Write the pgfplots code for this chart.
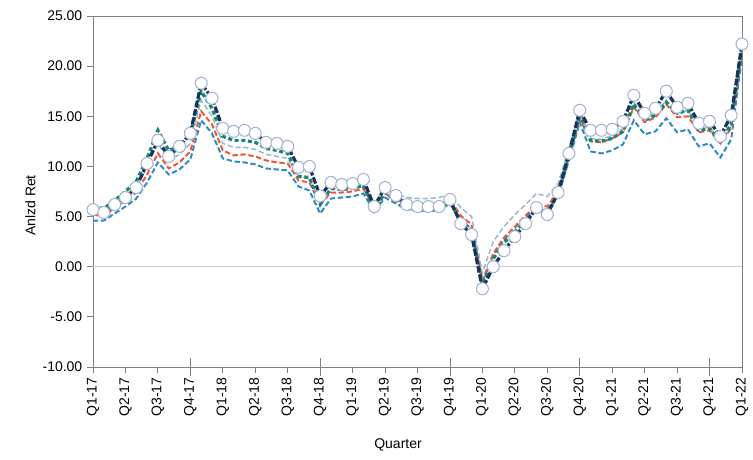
\documentclass[border=0pt]{standalone}
\usepackage{fontspec}
\setmainfont{Liberation Sans}
\usepackage{pgfplots}
\usepackage{pgfplotstable}
\pgfplotsset{compat=1.18}
\definecolor{navyc}{RGB}{25,50,95}
\definecolor{greenc}{RGB}{25,135,110}
\definecolor{redc}{RGB}{240,85,60}
\definecolor{bluec}{RGB}{45,140,200}
\definecolor{palec}{RGB}{150,185,200}
\definecolor{mkedge}{RGB}{165,180,210}
\definecolor{axc}{RGB}{128,128,128}
\pgfplotstableread{
x A B C D E
0 5.7 6.0 5.5 5.2 4.6
1 5.4 5.8 5.3 5.0 4.6
2 6.2 6.6 6.2 5.9 5.3
3 6.9 7.5 7.0 6.6 6.0
4 7.9 8.5 7.9 7.4 6.8
5 10.3 10.8 10.0 9.2 8.4
6 12.6 13.6 12.3 11.3 10.4
7 11.0 11.6 10.6 9.8 9.2
8 12.0 12.0 11.2 10.4 9.7
9 13.3 13.2 12.3 11.5 10.7
10 18.3 17.5 16.6 15.5 14.6
11 16.8 15.8 15.0 14.2 13.3
12 13.8 13.0 12.3 11.6 10.8
13 13.5 12.6 11.9 11.1 10.5
14 13.6 12.6 11.9 11.2 10.4
15 13.3 12.4 11.7 11.0 10.2
16 12.4 11.8 11.2 10.6 9.8
17 12.3 11.6 11.0 10.4 9.7
18 12.0 11.3 10.8 10.3 9.6
19 9.9 9.0 9.0 8.6 8.0
20 10.0 8.9 8.8 8.4 7.6
21 7.05 6.2 6.5 6.2 5.3
22 8.4 7.8 7.8 7.4 6.8
23 8.2 7.7 7.8 7.4 6.9
24 8.3 7.8 7.9 7.5 7.0
25 8.7 8.1 8.2 7.8 7.3
26 6.0 5.6 6.3 5.9 5.5
27 7.9 7.4 7.7 7.3 6.9
28 7.1 6.6 7.3 6.7 6.3
29 6.2 5.9 6.9 6.2 5.7
30 6.0 5.6 6.8 6.0 5.6
31 6.0 5.6 6.8 6.1 5.6
32 6.0 5.7 6.9 6.1 5.7
33 6.7 6.4 7.2 6.7 6.3
34 4.3 4.6 5.9 5.1 4.6
35 3.2 3.6 5.0 4.2 3.8
36 -2.2 -1.8 -0.6 -1.4 -1.6
37 0.0 0.8 2.5 1.3 1.2
38 1.6 2.4 4.0 2.9 2.7
39 3.0 3.5 5.2 4.0 3.9
40 4.3 4.6 6.2 5.1 5.0
41 5.9 5.8 7.3 6.2 6.0
42 5.2 5.5 7.0 6.0 5.6
43 7.4 7.2 8.3 7.6 7.0
44 11.3 11.0 11.8 11.0 10.6
45 15.6 15.2 15.4 14.8 14.4
46 13.6 12.6 12.8 12.5 11.5
47 13.6 12.5 12.7 12.4 11.3
48 13.7 12.8 13.1 12.8 11.6
49 14.5 13.5 13.8 13.4 12.2
50 17.1 16.2 16.4 15.9 14.6
51 15.3 14.6 14.8 14.4 13.2
52 15.8 15.1 15.3 14.9 13.5
53 17.5 16.4 16.6 16.2 14.8
54 15.9 15.3 15.3 14.9 13.4
55 16.3 15.6 15.6 15.0 13.7
56 14.3 13.6 13.8 13.4 12.0
57 14.5 13.8 13.9 13.6 12.3
58 13.0 12.4 12.6 12.3 10.9
59 15.1 14.2 14.4 13.8 12.7
60 22.2 22.0 21.8 21.6 21.0
}\datatable
\begin{document}
\begin{tikzpicture}
\path[use as bounding box] (-69.75pt,-69.75pt) rectangle (495pt,275.25pt);
\begin{axis}[
  scale only axis,
  width=486.75pt, height=263.25pt,
  xmin=0, xmax=60, ymin=-10, ymax=25,
  axis line style={axc},
  xtick={0,3,...,60},
  xticklabels={Q1-17,Q2-17,Q3-17,Q4-17,Q1-18,Q2-18,Q3-18,Q4-18,Q1-19,Q2-19,Q3-19,Q4-19,Q1-20,Q2-20,Q3-20,Q4-20,Q1-21,Q2-21,Q3-21,Q4-21,Q1-22},
  xticklabel style={rotate=90, anchor=east, font=\fontsize{10.5}{12}\selectfont},
  extra x ticks={9,21,33,45,57},
  extra x tick labels={},
  extra x tick style={tick align=center, major tick length=13.5pt},
  ytick={-10,-5,...,25},
  yticklabel style={font=\fontsize{10.5}{12}\selectfont},
  yticklabel={\pgfmathprintnumber[fixed,fixed zerofill,precision=2]{\tick}},
  /pgf/number format/assume math mode=true,
  tick align=outside,
  major tick length=4.5pt,
  xtick pos=bottom, ytick pos=left,
  major tick style={axc, line width=0.6pt},
  xlabel={Quarter},
  ylabel={Anlzd Ret},
  xlabel style={at={(rel axis cs:0.47,0)}, anchor=center, yshift=-58.5pt, font=\fontsize{10.5}{12}\selectfont},
  ylabel style={at={(rel axis cs:0,0.46)}, anchor=center, yshift=47pt, font=\fontsize{10.5}{12}\selectfont},
]
\addplot[gray!40, line width=0.8pt, forget plot] coordinates {(0,0) (60,0)};
\addplot[bluec, line width=1.5pt, dash pattern=on 4pt off 2pt] table[x=x,y=E]{\datatable};
\addplot[redc, line width=1.5pt, dash pattern=on 4pt off 2pt] table[x=x,y=D]{\datatable};
\addplot[palec, line width=1.1pt, dash pattern=on 4pt off 2pt] table[x=x,y=C]{\datatable};
\addplot[greenc, line width=2.4pt, dash pattern=on 3pt off 2pt] table[x=x,y=B]{\datatable};
\addplot[navyc, line width=2.4pt, dash pattern=on 5pt off 1.5pt, mark=*, mark size=4.5pt, mark options={solid, fill=white, draw=mkedge, line width=0.8pt}] table[x=x,y=A]{\datatable};
\end{axis}
\end{tikzpicture}
\end{document}
